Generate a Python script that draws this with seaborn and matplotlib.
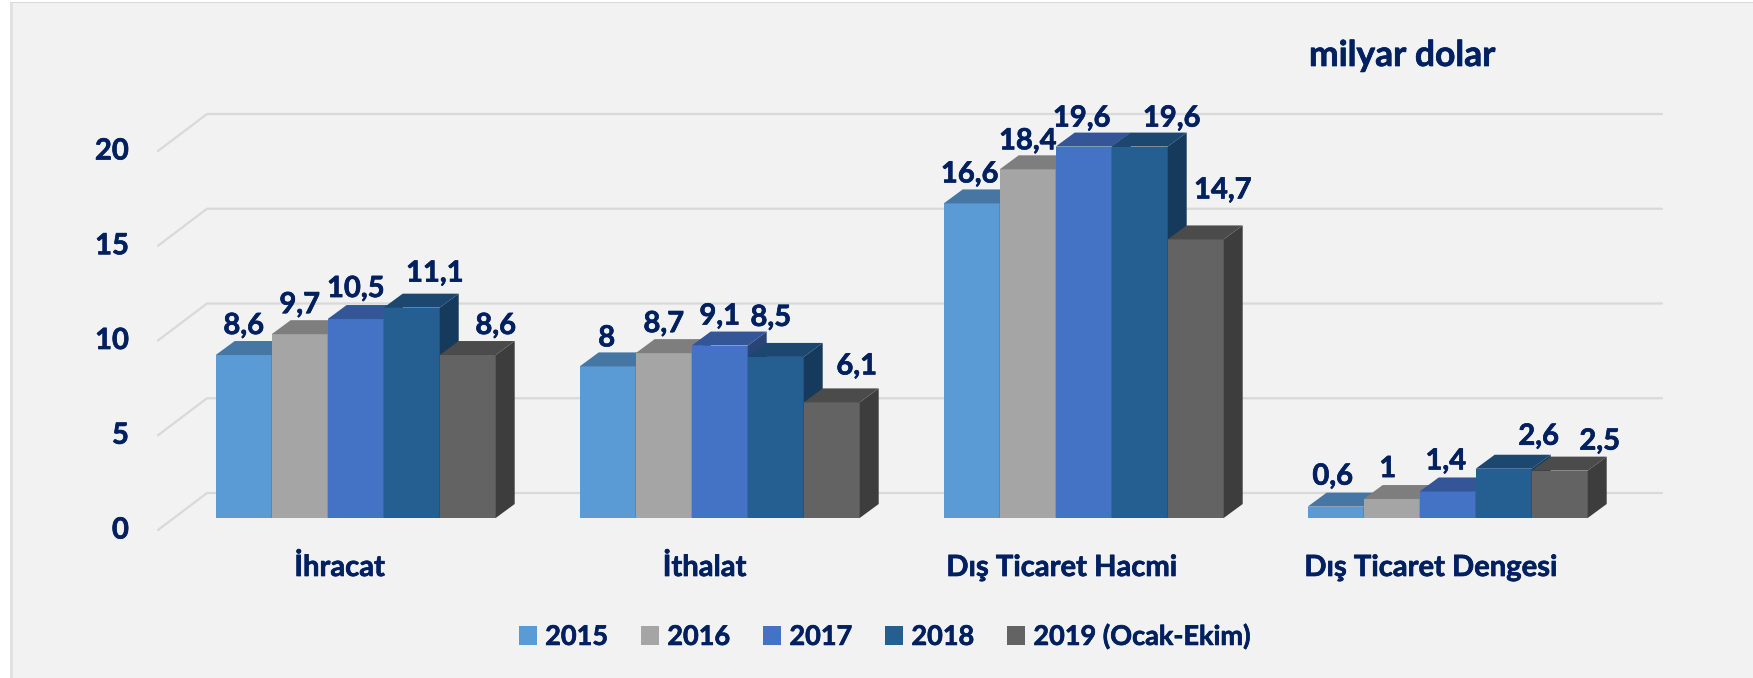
import matplotlib
matplotlib.use("Agg")
import matplotlib.pyplot as plt
import matplotlib.patheffects as pe
import matplotlib.text as mtext
import matplotlib.transforms as mtrans
from matplotlib.patches import Polygon, Rectangle
import pandas as pd
import seaborn as sns

# ---- data ----
categories = ["İhracat", "İthalat", "Dış Ticaret Hacmi", "Dış Ticaret Dengesi"]
series_names = ["2015", "2016", "2017", "2018", "2019 (Ocak-Ekim)"]
v2015 = [8.6, 8.0, 16.6, 0.6]
v2016 = [9.7, 8.7, 18.4, 1.0]
v2017 = [10.5, 9.1, 19.6, 1.4]
v2018 = [11.1, 8.5, 19.6, 2.6]
v2019 = [8.6, 6.1, 14.7, 2.5]
y_ticks = [0, 5, 10, 15, 20]

front_cols = ["#5B9BD5", "#A5A5A5", "#4472C4", "#255E91", "#636363"]
top_cols = ["#4676A3", "#7E7E7E", "#345696", "#1C476F", "#4B4B4B"]
side_cols = ["#37607F", "#636363", "#294476", "#163A5C", "#3D3D3D"]
NAVY = "#002060"
GRID = "#D9D9D9"
BG = "#F2F2F2"

# label nudges from each bar's front-top centre, in pixels (dx, dy up)
label_offsets = [
    [(0, 29), (0, 29), (0, 30), (23, 34), (28, 29)],
    [(-1, 28), (0, 29), (0, 29), (-5, 39), (25, 36)],
    [(-2, 29), (0, 28), (-2, 28), (32, 28), (27, 49)],
    [(-3, 30), (-4, 30), (-2, 30), (35, 32), (40, 29)],
]
cat_offsets = [-16, -15, -22, -17]

W, H, DPI = 1753, 678, 100
sns.set_theme(style="white", rc={"axes.facecolor": "none", "figure.facecolor": BG})
plt.rcParams["font.family"] = ["Lato", "DejaVu Sans"]
plt.rcParams["font.weight"] = "bold"

fig = plt.figure(figsize=(W / DPI, H / DPI), dpi=DPI, facecolor=BG)

# layout of the pseudo-3D view, in figure pixels
PX_CAT = 364.0        # pixels per category
PX_VAL = 18.95        # pixels per unit value
X0 = 355.7            # pixel of category 0 centre
Y0 = 518.0            # pixel (from top) of value 0 on the bar front
AX_L, AX_R, AX_T, AX_B = 158, 1662, 100, 530
ax = fig.add_axes([AX_L / W, 1 - AX_B / H, (AX_R - AX_L) / W, (AX_B - AX_T) / H])

df = pd.DataFrame({
    "category": categories * 5,
    "year": sum([[n] * 4 for n in series_names], []),
    "value": v2015 + v2016 + v2017 + v2018 + v2019,
})
sns.barplot(data=df, x="category", y="value", hue="year", order=categories,
            hue_order=series_names, palette=front_cols, width=280 / PX_CAT,
            gap=0, saturation=1, linewidth=0, ax=ax)

ax.set_xlim((AX_L - X0) / PX_CAT, (AX_R - X0) / PX_CAT)
ax.set_ylim((Y0 - AX_B) / PX_VAL, (Y0 - AX_T) / PX_VAL)
ax.set_xlabel("")
ax.set_ylabel("")
for s in ax.spines.values():
    s.set_visible(False)

# depth of a bar and of the floor, in data units
dx = 19 / PX_CAT
dy = 14 / PX_VAL
floor_dx = 49 / PX_CAT
back_dy = 25 / PX_VAL
front_dy = -12 / PX_VAL
xl = ax.get_xlim()

# back wall and floor gridlines
for v in y_ticks:
    ax.plot([xl[0], xl[0] + floor_dx, xl[1]],
            [v + front_dy, v + back_dy, v + back_dy],
            color=GRID, lw=1.6, zorder=1, clip_on=False, solid_joinstyle="miter")

# side and top faces built from the bars seaborn drew
for h, container in enumerate(ax.containers):
    for c, bar in enumerate(container):
        x, w, t = bar.get_x(), bar.get_width(), bar.get_height()
        r = x + w
        z = 3 + h
        bar.set_zorder(z)
        ax.add_patch(Polygon([(r, 0), (r + dx, dy), (r + dx, t + dy), (r, t)],
                             closed=True, fc=side_cols[h], ec="none", zorder=z))
        ax.add_patch(Polygon([(x, t), (x + dx, t + dy), (r + dx, t + dy), (r, t)],
                             closed=True, fc=top_cols[h], ec="none", zorder=z))
        txt = f"{t:g}".replace(".", ",")
        ax.annotate(txt, xy=(x + w / 2, t), xytext=label_offsets[c][h],
                    textcoords="offset pixels", ha="center", va="center",
                    color=NAVY, fontsize=21, fontweight="bold", zorder=20,
                    annotation_clip=False)

# ticks
ax.set_yticks(y_ticks)
ax.set_yticklabels([str(v) for v in y_ticks])
ax.tick_params(axis="both", length=0, labelsize=21, labelcolor=NAVY)
ax.tick_params(axis="y", pad=21)
for lab in ax.get_yticklabels():
    lab.set_fontweight("bold")
    lab.set_transform(lab.get_transform() +
                      mtrans.ScaledTranslation(0, -10 / DPI, fig.dpi_scale_trans))
ax.set_xticks(range(len(categories)))
ax.set_xticklabels(categories)
ax.tick_params(axis="x", pad=18, labelsize=21)
for lab, off in zip(ax.get_xticklabels(), cat_offsets):
    lab.set_fontweight("bold")
    lab.set_transform(lab.get_transform() +
                      mtrans.ScaledTranslation(off / DPI, 0, fig.dpi_scale_trans))

# legend
sns.move_legend(ax, "center left", bbox_to_anchor=(519 / W, 1 - 636.5 / H),
                bbox_transform=fig.transFigure, ncol=5, frameon=False, title=None,
                fontsize=19.5, handlelength=0.667, handleheight=0.667,
                handletextpad=0.3, columnspacing=1.22, borderpad=0, borderaxespad=0,
                labelcolor=NAVY)
for t in ax.get_legend().get_texts():
    t.set_fontweight("bold")

fig.text(1309 / W, 1 - 56 / H, "milyar dolar", color=NAVY, fontsize=25.5,
         fontweight="bold", ha="left", va="center")

# slightly heavier strokes to match the reference's bold face
for t in fig.findobj(mtext.Text):
    t.set_path_effects([pe.withStroke(linewidth=0.5, foreground=NAVY)])

# white margins and thin frame line along the top and left edge
frame = [
    ((0, 0), 10, H, "white"),
    ((0, H - 2), W, 2, "white"),
    ((10, 0), 3, H - 2, "#E2E2E2"),
    ((10, H - 3), W - 10, 1.5, GRID),
]
for (xy, w, h, col) in frame:
    fig.add_artist(Rectangle((xy[0] / W, xy[1] / H), w / W, h / H,
                             transform=fig.transFigure, fc=col, ec="none"))

fig.savefig("out.png", dpi=DPI, facecolor=BG)
